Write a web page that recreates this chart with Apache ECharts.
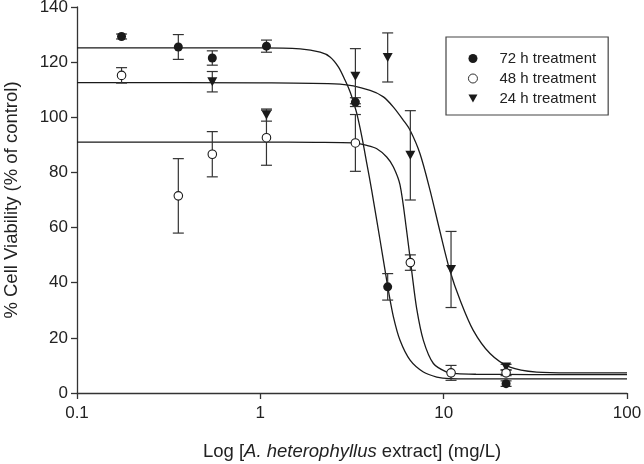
<!DOCTYPE html>
<html>
<head>
<meta charset="utf-8">
<script src="https://cdn.jsdelivr.net/npm/echarts@6/dist/echarts.min.js"></script>
<style>
  html, body { margin: 0; padding: 0; background: #fff; }
  #main { width: 644px; height: 464px; }
</style>
</head>
<body>
<div id="main"></div>
<script>
// measured points (mean, error)
var dose72 = [0.175, 0.357, 0.547, 1.08, 3.30, 4.95, 21.9];
var via72 = [129.3, 125.5, 121.5, 125.8, 105.5, 38.5, 3.4];
var err72 = [0.9, 4.5, 2.6, 2.2, 1.6, 4.8, 1.0];

var dose48 = [0.175, 0.357, 0.547, 1.08, 3.30, 6.58, 10.97, 21.9];
var via48 = [115.2, 71.5, 86.6, 92.6, 90.7, 47.3, 7.3, 7.3];
var err48 = [2.8, 13.5, 8.2, 10.0, 10.3, 2.8, 2.7, 1.0];

var dose24 = [0.547, 1.08, 3.30, 4.95, 6.58, 10.97, 21.9];
var via24 = [112.9, 100.8, 114.9, 121.7, 86.2, 44.8, 9.4];
var err24 = [3.7, 2.2, 10.0, 8.9, 16.2, 13.8, 1.0];

// fitted curves
var fitX72 = [0.1, 0.5, 1.0, 1.65, 2.12, 2.40, 2.67, 2.90, 3.09, 3.22, 3.36, 3.58, 3.81, 4.05, 4.50, 4.79, 4.99, 5.32, 5.78, 6.56, 7.75, 9.17, 10.8, 14, 20, 40, 100];
var fitY72 = [125.2, 125.2, 125.2, 124.8, 123.6, 121.9, 118.2, 113.4, 109.2, 105.5, 101.3, 92.9, 83.2, 73.5, 55.4, 44.5, 37.3, 27.6, 19.1, 11.9, 7.6, 5.8, 5.2, 5.1, 5.1, 5.1, 5.1];

var fitX48 = [0.1, 1.0, 2.0, 3.22, 3.81, 4.32, 4.89, 5.32, 5.78, 6.29, 6.70, 7.13, 7.75, 8.79, 10.4, 11.8, 15, 30, 100];
var fitY48 = [91.0, 91.0, 90.9, 90.7, 89.8, 88.6, 85.6, 82.0, 75.5, 58.5, 44.0, 30.5, 19.1, 10.7, 7.6, 7.0, 6.8, 6.7, 6.7];

var fitX24 = [0.1, 1.0, 2.72, 3.97, 4.69, 5.32, 6.03, 6.56, 7.43, 8.43, 9.56, 10.8, 12.3, 14.5, 17.9, 23.0, 32.2, 48.9, 100];
var fitY24 = [112.6, 112.5, 112.0, 109.8, 107.4, 103.7, 98.9, 95.3, 86.8, 73.5, 58.4, 44.5, 33.6, 22.7, 14.3, 9.4, 7.6, 7.3, 7.3];

var yTicks = [0, 140, 20]; // min, max, step

var ink = '#1a1a1a';
var font = 'Liberation Sans, Arial, sans-serif';
var downTri = 'path://M0,0 L10,0 L5,8.7 Z';

function pairs(xs, ys) {
    var out = [];
    for (var i = 0; i < xs.length; i++) out.push([xs[i], ys[i]]);
    return out;
}
function bars(xs, ys, es) {
    var out = [];
    for (var i = 0; i < xs.length; i++) out.push([xs[i], ys[i] - es[i], ys[i] + es[i]]);
    return out;
}

// error bar with caps
function renderBar(params, api) {
    var top = api.coord([api.value(0), api.value(2)]);
    var bot = api.coord([api.value(0), api.value(1)]);
    var w = 5.5;
    var st = { stroke: '#333', lineWidth: 1.2 };
    return {
        type: 'group',
        children: [
            { type: 'line', shape: { x1: top[0], y1: top[1], x2: bot[0], y2: bot[1] }, style: st },
            { type: 'line', shape: { x1: top[0] - w, y1: top[1], x2: top[0] + w, y2: top[1] }, style: st },
            { type: 'line', shape: { x1: bot[0] - w, y1: bot[1], x2: bot[0] + w, y2: bot[1] }, style: st }
        ]
    };
}

function barSeries(name, data) {
    return { name: name, type: 'custom', renderItem: renderBar, data: data, z: 3, silent: true };
}
function fitSeries(name, data) {
    return {
        name: name, type: 'line', data: data, showSymbol: false, smooth: 0.3,
        lineStyle: { color: ink, width: 1.3 }, z: 2, silent: true
    };
}

var chart = echarts.init(document.getElementById('main'));
var option = {
    backgroundColor: '#fff',
    animation: false,
    textStyle: { fontFamily: font },
    grid: { left: 77, right: 17, top: 7, bottom: 71, containLabel: false, outerBoundsMode: 'none' },
    legend: {
        data: [
            { name: '72 h treatment' },
            { name: '48 h treatment', itemStyle: { borderWidth: 0.9 } },
            { name: '24 h treatment' }
        ],
        orient: 'vertical',
        left: 446,
        top: 37,
        padding: [14, 12, 9, 22],
        itemWidth: 9,
        itemHeight: 9,
        itemGap: 5,
        borderColor: '#444',
        borderWidth: 1.2,
        formatter: function(n) { return '{s| }{t|' + n + '}'; },
        textStyle: {
            color: '#222',
            rich: {
                s: { width: 17, fontSize: 15, lineHeight: 15 },
                t: { fontSize: 15, lineHeight: 15, color: '#222', fontFamily: font }
            }
        }
    },
    xAxis: {
        type: 'log',
        logBase: 10,
        min: 0.1,
        max: 100,
        name: '{n|Log [}{i|A. heterophyllus}{n| extract] (mg/L)}',
        nameLocation: 'middle',
        nameGap: 49,
        nameTextStyle: {
            rich: {
                n: { fontSize: 18.5, color: '#222', fontFamily: font },
                i: { fontSize: 18.5, color: '#222', fontStyle: 'italic', fontFamily: font }
            }
        },
        axisLine: { lineStyle: { color: '#333', width: 1.3 } },
        axisTick: { length: 6, lineStyle: { color: '#333', width: 1.3 } },
        minorTick: { show: false },
        axisLabel: { fontSize: 17, color: '#222', margin: 12 },
        splitLine: { show: false }
    },
    yAxis: {
        type: 'value',
        min: yTicks[0],
        max: yTicks[1],
        interval: yTicks[2],
        name: '% Cell Viability (% of control)',
        nameLocation: 'middle',
        nameGap: 56,
        nameTextStyle: { fontSize: 18.5, color: '#222' },
        axisLine: { show: true, lineStyle: { color: '#333', width: 1.3 } },
        axisTick: { show: true, length: 6, lineStyle: { color: '#333', width: 1.3 } },
        axisLabel: { fontSize: 17, color: '#222', margin: 9 },
        splitLine: { show: false }
    },
    series: [
        fitSeries('fit72', pairs(fitX72, fitY72)),
        fitSeries('fit48', pairs(fitX48, fitY48)),
        fitSeries('fit24', pairs(fitX24, fitY24)),
        barSeries('err72', bars(dose72, via72, err72)),
        barSeries('err48', bars(dose48, via48, err48)),
        barSeries('err24', bars(dose24, via24, err24)),
        {
            name: '24 h treatment', type: 'scatter', data: pairs(dose24, via24),
            symbol: downTri, symbolSize: [10, 9], z: 5,
            itemStyle: { color: ink, opacity: 1 }
        },
        {
            name: '48 h treatment', type: 'scatter', data: pairs(dose48, via48),
            symbol: 'circle', symbolSize: 8.5, z: 5,
            itemStyle: { color: '#fff', borderColor: ink, borderWidth: 1.1, opacity: 1 }
        },
        {
            name: '72 h treatment', type: 'scatter', data: pairs(dose72, via72),
            symbol: 'circle', symbolSize: 9, z: 6,
            itemStyle: { color: ink, opacity: 1 }
        }
    ]
};
chart.setOption(option);
</script>
</body>
</html>
